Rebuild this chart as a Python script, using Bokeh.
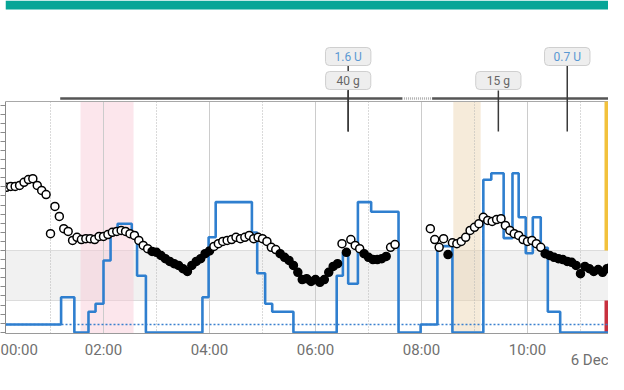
from bokeh.plotting import figure
from bokeh.models import Range1d, FixedTicker, Label
from bokeh.embed import file_html
from bokeh.resources import INLINE

# ---------------- data ----------------
bg_minutes = [10, 15, 20, 25, 30, 35, 40, 45, 50, 55, 60, 65, 70, 75, 80, 85, 90, 95,
              100, 105, 110, 115, 120, 125, 130, 135, 140, 145, 150, 155, 160, 165, 170,
              175, 180, 185, 190, 195, 200, 205, 210, 215, 220, 225, 230, 235, 240, 245,
              250, 255, 260, 265, 270, 275, 280, 285, 290, 295, 300, 305, 310, 315, 320,
              325, 330, 335, 340, 345, 350, 355, 360, 365, 370, 375, 380, 385, 390, 395,
              400, 405, 410, 415, 420, 425, 430, 435, 440, 445, 450,
              490, 495, 500, 505, 510, 515, 520, 525, 530, 535, 540, 545, 550, 555, 560,
              565, 570, 575, 580, 585, 590, 595, 600, 605, 610, 615, 620, 625, 630, 635,
              640, 645, 650, 655, 660, 665, 670, 675, 680, 685, 690, 695, 700]
bg_mgdl = [319, 321, 321, 323, 330, 336, 338, 323, 312, 303, 217, 277, 255, 228, 222, 202, 209, 204,
           206, 206, 204, 211, 211, 215, 220, 222, 224, 222, 217, 213, 202, 191, 184,
           178, 176, 169, 162, 156, 151, 147, 140, 134, 147, 156, 162, 173, 179, 189,
           195, 200, 202, 204, 209, 206, 209, 213, 206, 209, 206, 200, 187, 182, 173,
           165, 158, 147, 132, 116, 118, 112, 116, 110, 116, 132, 145, 151, 195, 176,
           204, 191, 184, 173, 165, 160, 160, 162, 167, 187, 193,
           228, 204, 187, 206, 171, 197, 195, 200, 209, 224, 231, 239, 253, 246, 244,
           248, 250, 235, 224, 217, 213, 204, 200, 202, 195, 187, 173, 169, 165, 162,
           160, 156, 154, 147, 129, 145, 140, 134, 138, 132, 140, 145, 158]

basal_minutes = [0, 72, 87, 103, 111, 120, 128, 136, 152, 158, 168, 232, 239, 247, 288, 294,
                 303, 311, 335, 384, 391, 397, 408, 423, 454, 479, 498, 515, 550, 559, 573,
                 583, 590, 598, 606, 615, 623, 637, 700, 720]
basal_rate = [0.10, 0.44, 0.0, 0.26, 0.36, 0.90, 1.25, 1.36, 1.25, 0.71, 0.0, 0.44, 1.19, 1.63,
              1.25, 0.74, 0.36, 0.26, 0.0, 0.71, 1.00, 0.61, 1.63, 1.51, 0.0, 0.10, 1.08, 0.0,
              1.91, 1.99, 1.18, 1.99, 1.44, 0.99, 1.44, 1.06, 0.26, 0.0, 0.99, 0.99]
profile_basal_rate = 0.10

target_low = 70
target_high = 180
high_color_limit = 180

hour_ticks = [120, 240, 360, 480, 600]
hour_labels = ["02:00", "04:00", "06:00", "08:00", "10:00"]
first_hour_label = "00:00"
half_hour_ticks = [60, 180, 300, 420, 540, 660]
glucose_ticks = [0, 20, 40, 60, 80, 100, 120, 140, 160, 180, 200, 220, 240, 260, 280, 300,
                 320, 340, 360, 380, 400, 420, 440, 460, 480, 500]

bolus_minutes = [397, 645]
bolus_labels = ["1.6 U", "0.7 U"]
carb_minutes = [397, 567]
carb_labels = ["40 g", "15 g"]

pink_band = [94, 154]
beige_band = [516, 547]
loop_start = [71, 492]
loop_end = [458, 720]
loop_gap = [458, 492]
date_label = "6 Dec"


# ------------- layout helpers (picture pixels -> data) -------------
def mx(px):
    return (px + 3) * 60.0 / 53.0


def gy(py):
    return (331.8 - py) * 2.2


X0, X1 = mx(5), mx(608)
Y0, Y1 = gy(333), gy(0)
AX_TOP = gy(101)
edge_tick_left = mx(5.5)     # "00:00" sits at the left edge
edge_tick_right = mx(607.5)  # the date under 12:00 sits at the right edge

p = figure(width=608, height=374, output_backend="svg", toolbar_location=None,
           x_range=Range1d(X0, X1), y_range=Range1d(Y0, Y1),
           min_border_left=5, min_border_right=0, min_border_top=0, min_border_bottom=41,
           background_fill_color="white", border_fill_color="white",
           outline_line_color=None)
p.extra_y_ranges = {"basal": Range1d(-1 / 80, -1 / 80 + 333 / 80)}
p.xgrid.visible = False
p.ygrid.visible = False

# axes
xa = p.xaxis[0]
xa.ticker = FixedTicker(ticks=[edge_tick_left] + hour_ticks + [edge_tick_right], minor_ticks=[])
overrides = {t: l for t, l in zip(hour_ticks, hour_labels)}
overrides[edge_tick_left] = first_hour_label
overrides[edge_tick_right] = "\n" + date_label
xa.major_label_overrides = overrides
xa.major_tick_out = 0
xa.major_tick_in = 0
xa.minor_tick_out = 0
xa.axis_line_color = "#9a9a9a"
xa.major_label_text_font = "Roboto"
xa.major_label_text_font_size = "15px"
xa.major_label_text_line_height = 0.6
xa.major_label_text_color = "#707070"
xa.major_label_standoff = 7

ya = p.yaxis[0]
ya.ticker = FixedTicker(ticks=glucose_ticks, minor_ticks=[])
ya.major_label_overrides = {t: "" for t in glucose_ticks}
ya.bounds = (Y0, AX_TOP)
ya.major_tick_out = 5
ya.major_tick_in = 0
ya.minor_tick_out = 0
ya.major_label_standoff = 0
ya.axis_line_color = "#8a8a8a"
ya.major_tick_line_color = "#8a8a8a"

# top teal bar
p.quad(left=X0, right=X1, bottom=gy(9), top=Y1, fill_color="#07a597", line_color=None)

# target band
p.quad(left=X0, right=X1, bottom=target_low, top=target_high, fill_color="#f1f1f1", line_color=None)
p.hspan(y=[target_low, target_high], line_color="#dcdcdc", line_width=1)

# highlight bands
p.quad(left=pink_band[0], right=pink_band[1], bottom=Y0, top=AX_TOP,
       fill_color="#f8c8d4", fill_alpha=0.45, line_color=None)
p.quad(left=beige_band[0], right=beige_band[1], bottom=Y0, top=AX_TOP,
       fill_color="#ecd2ae", fill_alpha=0.45, line_color=None)

# vertical grid
p.segment(x0=hour_ticks, x1=hour_ticks, y0=Y0, y1=AX_TOP, line_color="#cccccc", line_width=1)
p.segment(x0=half_hour_ticks, x1=half_hour_ticks, y0=Y0, y1=AX_TOP,
          line_color="#b5b5b5", line_width=1, line_dash="1 2")

# top border
p.hspan(y=[AX_TOP], line_color="#a8a8a8", line_width=1)

# right colour scale bar
p.quad(left=mx(604), right=X1, bottom=target_high, top=AX_TOP, fill_color="#f2c13c", line_color=None)
p.quad(left=mx(604), right=X1, bottom=Y0, top=target_low, fill_color="#c8303f", line_color=None)

# basal
p.line(x=[basal_minutes[0], basal_minutes[-1]], y=[profile_basal_rate, profile_basal_rate],
       y_range_name="basal", line_color="#3a80cf", line_width=1.6, line_dash="2 2")
p.step(x=basal_minutes, y=basal_rate, mode="after", y_range_name="basal",
       line_color="#2f7fcf", line_width=2.6)

# glucose
fills = ["white" if v > high_color_limit else "black" for v in bg_mgdl]
p.scatter(x=bg_minutes, y=bg_mgdl, marker="circle", size=8, fill_color=fills,
          line_color="black", line_width=1.5)

# treatment timeline
p.segment(x0=loop_start, x1=loop_end, y0=gy(98), y1=gy(98), line_color="#555555", line_width=2.5)
p.segment(x0=[loop_gap[0]], x1=[loop_gap[1]], y0=gy(98), y1=gy(98),
          line_color="#b0b0b0", line_width=2.5, line_dash="1 1")

# treatment stems
p.segment(x0=bolus_minutes, x1=bolus_minutes, y0=gy(64), y1=gy(131), line_color="#3a3a3a", line_width=1.5)
p.segment(x0=carb_minutes, x1=carb_minutes, y0=gy(90), y1=gy(131), line_color="#3a3a3a", line_width=1.5)

for m, t in zip(bolus_minutes, bolus_labels):
    p.add_layout(Label(x=m, y=gy(56), text=t, text_align="center", text_baseline="middle",
                       text_font="Roboto", text_font_size="12px", text_color="#5a98d2",
                       background_fill_color="#eeeeee", border_line_color="#cfcfcf",
                       padding=(9, 2), border_radius=4))
for m, t in zip(carb_minutes, carb_labels):
    p.add_layout(Label(x=m, y=gy(80), text=t, text_align="center", text_baseline="middle",
                       text_font="Roboto", text_font_size="12px", text_color="#666666",
                       background_fill_color="#eeeeee", border_line_color="#cfcfcf",
                       padding=(11, 2), border_radius=4))

open("out.html", "w").write(file_html(p, INLINE))
